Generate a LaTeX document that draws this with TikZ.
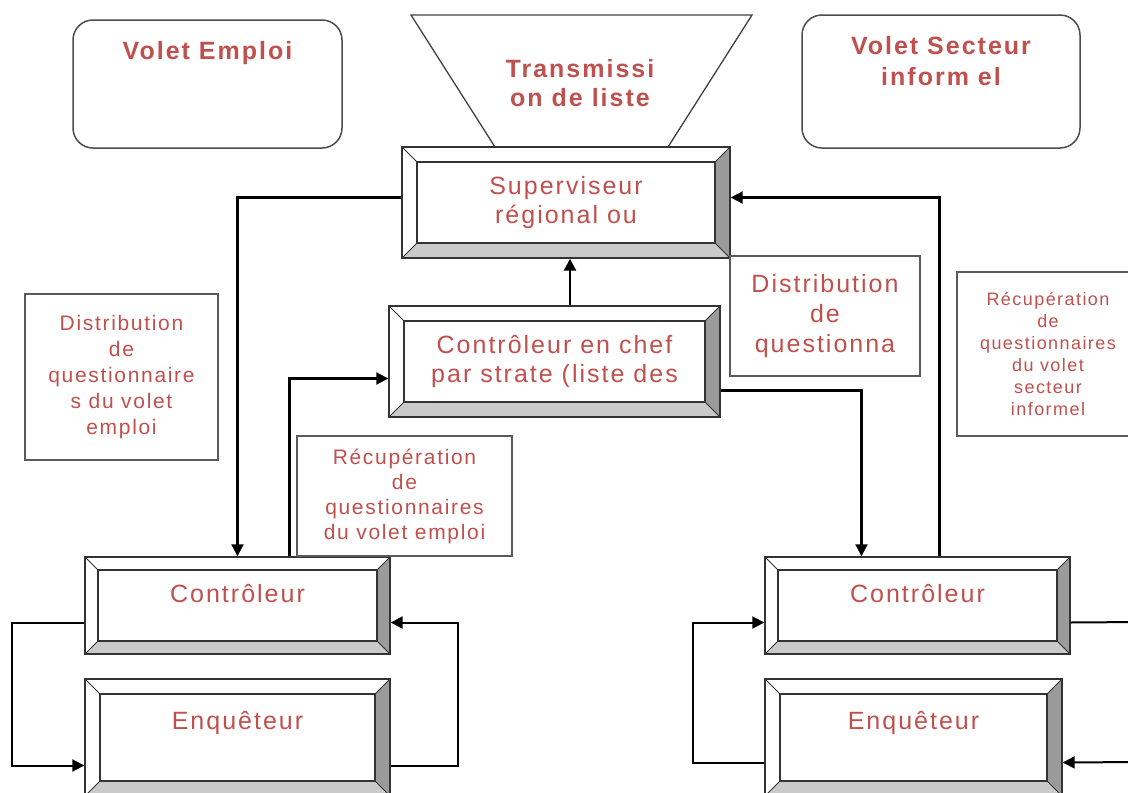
\documentclass[tikz,border=0pt]{standalone}
\usepackage{fontspec}
\setmainfont{Liberation Sans}[LetterSpace=8]
\usetikzlibrary{positioning,arrows.meta,calc}
\definecolor{uRed}{HTML}{C0504D}
\definecolor{uEdge}{HTML}{5A5A5A}
\definecolor{uDark}{HTML}{9A9A9A}
\definecolor{uLight}{HTML}{CACACA}
\tikzset{
  txt/.style={text=uRed, align=center, inner sep=0pt},
  % raised box: white top and left faces, shaded right and bottom faces
  bev/.style={txt, draw=black!80, line width=1.4pt, fill=white,
    font=\fontsize{25}{29}\selectfont,
    path picture={
      \def\pb{path picture bounding box}
      \fill[uDark] (\pb.north east) -- (\pb.south east) -- ++(-#1,#1)
        -- ([shift={(-#1,-#1)}]\pb.north east) -- cycle;
      \fill[uLight] (\pb.south west) -- (\pb.south east) -- ++(-#1,#1)
        -- ([shift={(#1,#1)}]\pb.south west) -- cycle;
      \draw[line width=1.4pt] ([shift={(#1,#1)}]\pb.south west)
        rectangle ([shift={(-#1,-#1)}]\pb.north east);
      \draw[line width=0.8pt] (\pb.south west) -- ++(#1,#1)
        (\pb.north west) -- ++(#1,-#1)
        (\pb.north east) -- ++(-#1,-#1)
        (\pb.south east) -- ++(-#1,#1);
    }},
  bev/.default=15pt,
  hdr/.style={txt, draw=black!70, line width=1.5pt, rounded corners=20pt,
    font=\bfseries\fontsize{25}{31}\selectfont, text height=20pt, text depth=#1},
  tbox/.style={txt, draw=uEdge, line width=1.5pt},
  flow/.style={-{Triangle[length=12pt,width=12pt]}, line width=2.1pt},
  loop/.style={-{Triangle[length=12pt,width=12pt]}, line width=2pt},
}

\begin{document}
\begin{tikzpicture}[x=1pt, y=-1pt]
\useasboundingbox (0,0) rectangle (1128,793);
\clip (0,0) rectangle (1128,793);

%% ── the two strands ───────────────────────────────────────────────────────
\node[hdr=70pt, minimum width=269pt, minimum height=128pt] (voletE)
  at (207.5,84) {Volet Emploi};
\node[hdr=13pt, minimum width=278pt, minimum height=133pt] (voletS)
  at (941,81.5) {Volet Secteur\\inform el};

%% ── the list, poured in from the top ──────────────────────────────────────
\draw[line width=1.3pt, black!75] (411,15) -- (752,15) -- (668,147)
  -- (495,147) -- cycle;
\node[txt, font=\bfseries\fontsize{25}{29}\selectfont] (trans)
  at (580,83) {Transmissi\\on de liste};

%% ── the chain of command ──────────────────────────────────────────────────
\node[bev, minimum width=328pt, minimum height=111pt] (sup)
  at (566,202.5) {Superviseur\\régional ou};
\node[bev, minimum width=331pt, minimum height=111pt] (chef)
  at (554.5,361.5) {Contrôleur en chef\\par strate (liste des};

\node[bev=13pt, minimum width=305pt, minimum height=97pt,
  text height=20pt, text depth=27pt] (ctrlL) at (237.5,605.5) {Contrôleur};
\node[bev, minimum width=305pt, minimum height=117pt,
  text height=20pt, text depth=37pt] (enqL) at (237.5,737.5) {Enquêteur};
\node[bev=13pt, minimum width=305pt, minimum height=97pt,
  text height=20pt, text depth=27pt] (ctrlR) at (917.5,605.5) {Contrôleur};
\node[bev, minimum width=297pt, minimum height=117pt,
  text height=20pt, text depth=37pt] (enqR) at (913.5,737.5) {Enquêteur};

%% ── what travels along the arrows ─────────────────────────────────────────
\node[tbox, minimum width=193pt, minimum height=166pt,
  font=\fontsize{21}{26}\selectfont] (distL) at (121.5,377)
  {Distribution\\de\\questionnaire\\s du volet\\emploi};
\node[tbox, minimum width=215pt, minimum height=120pt,
  font=\fontsize{21}{25}\selectfont] (recupL) at (404.5,496)
  {Récupération\\de\\questionnaires\\du volet emploi};
\node[tbox, minimum width=190pt, minimum height=120pt,
  font=\fontsize{25}{30}\selectfont] (distR) at (825,316)
  {Distribution\\de\\questionna};
\node[tbox, minimum width=182pt, minimum height=164pt,
  font=\fontsize{18}{22}\selectfont] (recupR) at (1048,354)
  {Récupération\\de\\questionnaires\\du volet\\secteur\\informel};

%% ── flow ──────────────────────────────────────────────────────────────────
\draw[flow] ([yshift=5pt]sup.west) -| (ctrlL.north);
\draw[flow] ([xshift=4pt]chef.north -| sup.south) -- ([xshift=4pt]sup.south);
\draw[flow] ([xshift=52pt]ctrlL.north) |- ([yshift=-17pt]chef.west);
\draw[flow] ([yshift=-29pt]chef.east) -| ([xshift=-56pt]ctrlR.north);
\draw[flow] ([xshift=22pt]ctrlR.north) |- ([yshift=5pt]sup.east);

% field loops, controller <-> interviewer
\coordinate (offA) at (1140,622);
\coordinate (offB) at (1140,762);
\draw[loop] ([yshift=-17pt]ctrlL.west) -- ++(-72pt,0)
  |- ([yshift=-28pt]enqL.west);
\draw[loop] ([yshift=-28pt]enqL.east) -- ++(67pt,0)
  |- ([yshift=-17pt]ctrlL.east);
\draw[loop] ([yshift=-25pt]enqR.west) -- ++(-71pt,0)
  |- ([yshift=-17pt]ctrlR.west);
\draw[line width=2pt] ([yshift=-17pt]ctrlR.east) -- (offA);
\draw[loop] (offB) -- ([yshift=-25pt]enqR.east);

\end{tikzpicture}
\end{document}
